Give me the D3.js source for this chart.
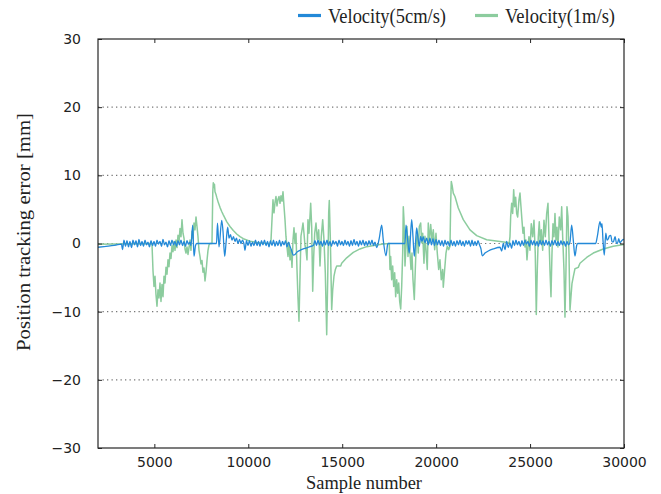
<!DOCTYPE html>
<html>
<head>
<meta charset="utf-8">
<script src="https://cdn.jsdelivr.net/npm/d3@7"></script>
<style>
html,body{margin:0;padding:0;background:#fff;}
svg{display:block;}
</style>
</head>
<body>
<svg id="chart" width="661" height="494"></svg>
<script>
// ---- data ----
const seriesNames = ["Velocity(5cm/s)", "Velocity(1m/s)"];
const xTicks = [5000, 10000, 15000, 20000, 25000, 30000];
const yTicks = [-30, -20, -10, 0, 10, 20, 30];
const gridValues = [-20, -10, 0, 10, 20];
const xLabel = "Sample number";
const yLabel = "Position tracking error [mm]";

// Velocity(5cm/s): [sample, error mm]
const velocity5cm = [
[2000,-0.55],[2320,-0.45],[2639,-0.35],[2958,-0.22],[3251,-0.1],[3304,-0.9],
[3384,0.5],[3464,-0.4],[3544,0.4],[3624,-0.5],[3703,0.3],[3783,-0.6],[3863,0.5],[3943,-0.2],
[4023,0.4],[4103,-0.5],[4182,0.6],[4262,-0.3],[4342,0.3],[4422,-0.4],[4502,0.5],[4582,-0.2],
[4662,0.2],[4741,-0.5],[4821,0.4],[4901,-0.3],[4981,0.3],[5061,-0.4],[5140,0.5],[5220,-0.1],
[5300,0.3],[5380,-0.4],[5460,0.6],[5540,-0.2],[5620,0.2],[5700,-0.5],[5779,0.4],[5859,-0.3],
[5939,0.5],[6019,-0.2],[6099,0.3],[6179,-0.4],[6258,0.4],[6338,-0.2],[6418,0.5],[6498,-0.3],
[6578,0.3],[6658,-0.4],[6737,0.4],[6817,-0.1],[6897,0.2],[6950,-0.3],[7041,2.7],[7110,-1.9],
[7190,-0.3],[7254,0],[8308,0],[8361,3.0],[8441,-0.5],[8585,3.4],[8654,1.8],[8744,-1.9],
[8813,0.0],[8904,2.4],[8973,0.8],[9053,1.3],[9133,0.5],[9213,1.0],[9292,0.3],[9372,0.8],
[9452,0.0],[9532,0.6],[9612,0.0],[9692,0.5],[9772,-0.1],[9825,-1.0],[9905,0.4],[9985,-0.3],
[10065,0.4],[10144,-0.4],[10224,0.2],[10304,-0.3],[10384,0.5],[10464,-0.3],[10544,0.3],
[10623,-0.4],[10703,0.4],[10783,-0.2],[10863,0.5],[10943,-0.3],[11023,0.3],[11103,-0.5],
[11182,0.4],[11262,-0.3],[11342,0.5],[11422,-0.4],[11502,0.3],[11582,-0.3],[11662,0.5],
[11741,-0.4],[11821,0.3],[11901,-0.2],[11981,0.4],[12060,-0.5],[12140,0.2],[12220,-0.4],
[12300,-1.0],[12396,-1.7],[12486,-1.6],[12577,-1.3],[12752,-1.0],[12928,-0.8],[13105,-0.65],
[13285,-0.45],[13461,-0.3],
[13551,0.4],[13631,-0.3],[13710,0.5],[13790,-0.2],[13870,0.3],[13950,-0.4],[14030,0.4],
[14110,-0.2],[14190,0.5],[14270,-0.3],[14349,0.3],[14429,-0.4],[14509,0.4],[14589,-0.1],
[14669,0.3],[14749,-0.4],[14829,0.5],[14908,-0.2],[14988,0.3],[15068,-0.3],[15148,0.5],
[15228,-0.2],[15308,0.3],[15388,-0.4],[15467,0.4],[15547,-0.3],[15627,0.6],[15707,-0.2],
[15787,0.3],[15867,-0.4],[15946,0.4],[16026,-0.2],[16106,0.5],[16186,-0.3],[16266,0.3],
[16346,-0.3],[16425,0.4],[16505,-0.2],[16585,0.5],[16665,-0.3],[16745,0.2],[16835,-0.6],
[16974,0.8],[17101,2.7],[17186,0.5],[17330,-1.8],[17421,-0.1],[17453,0],[18342,0],
[18395,2.7],[18485,0.5],[18570,-1.4],[18698,3.5],[18767,1.0],[18837,-1.9],[18911,0.5],
[18964,2.3],[19034,0.8],[19103,-0.4],[19177,1.05],[19246,0.3],[19316,1.0],[19405,0.1],
[19496,0.8],[19581,-0.2],[19672,0.8],[19751,-0.2],[19831,0.7],[19911,-0.3],[19991,0.6],
[20071,-0.2],[20151,0.5],[20231,-0.3],[20311,0.4],[20391,-0.4],[20470,0.5],[20550,-0.2],
[20630,0.3],[20710,-0.4],[20790,0.5],[20870,-0.3],[20950,0.3],[21030,-0.4],[21110,0.4],
[21190,-0.2],[21269,0.5],[21349,-0.3],[21429,0.3],[21509,-0.4],[21589,0.4],[21669,-0.1],
[21748,0.4],[21828,-0.4],[21908,0.5],[21988,-0.3],[22068,0.3],[22148,-0.3],[22228,0.4],
[22308,-0.2],[22386,-0.8],[22456,-1.8],[22600,-1.4],[22776,-1.1],[23042,-0.8],[23398,-0.55],
[23489,-1.1],[23574,0.0],[23664,-0.9],[23755,0.3],[23840,-0.6],[23930,0.1],[24020,-0.7],
[24089,0.4],[24169,-0.3],[24249,0.5],[24329,-0.2],[24409,0.3],[24489,-0.4],[24569,0.4],
[24649,-0.3],[24729,0.5],[24808,-0.1],[24888,0.3],[24968,-0.4],[25048,0.5],[25128,-0.2],
[25208,0.4],[25288,-0.3],[25368,0.3],[25447,-0.4],[25527,0.5],[25607,-0.2],[25687,0.4],
[25767,-0.3],[25847,0.5],[25927,-0.2],[26006,0.3],[26086,-0.4],[26166,0.4],[26246,-0.2],
[26326,0.5],[26406,-0.3],[26485,0.3],[26565,-0.3],[26645,0.4],[26725,-0.2],[26805,0.3],
[26885,-0.4],[26964,0.3],[27044,-0.2],[27124,0.2],[27214,2.7],[27300,0.5],[27390,-1.85],
[27480,-0.3],[27534,0],[28493,0],[28578,1.0],[28721,3.2],[28791,2.4],[28828,2.9],[28881,0.5],
[28950,-1.7],[29030,1.5],[29099,0.5],[29168,0.7],[29221,1.1],[29296,1.2],[29365,0.25],
[29434,0.25],[29525,1.0],[29594,0.1],[29647,0],[29722,0.7],[29785,0.1],[29876,0.4],
[29962,0.6],[30000,0.5]
];

// Velocity(1m/s): [sample, error mm]
const velocity1m = [
[2000,-0.1],[4874,0],
[4928,-4.0],[4981,-6.3],[5034,-4.8],[5087,-7.5],[5140,-9.2],[5194,-6.8],[5247,-8.0],[5300,-5.8],
[5353,-8.5],[5407,-6.0],[5460,-7.8],[5513,-4.8],[5566,-5.8],[5620,-3.5],[5673,-4.5],[5726,-2.4],
[5779,-3.4],[5833,-1.4],[5886,-2.2],[5939,-0.3],[5992,-1.2],[6045,0.3],[6099,-1.0],[6152,0.5],
[6205,-0.6],[6258,1.2],[6312,0.2],[6365,2.2],[6418,1.0],[6471,3.5],[6525,1.5],[6578,0.8],
[6631,-0.8],[6684,-1.4],[6737,-0.5],[6791,-1.6],[6844,-0.6],[6897,0.5],[6950,-1.0],[7004,1.8],
[7057,0.8],[7110,3.0],[7163,2.0],[7217,3.9],[7270,2.5],[7323,1.0],[7376,-1.0],[7429,-1.9],
[7483,-3.0],[7536,-2.5],[7589,-4.2],[7642,-3.6],[7696,-5.5],[7749,-4.2],[7802,-2.5],[7855,-1.0],
[7909,-0.2],[7962,0],[8068,0],[8110,7.5],[8137,8.9],[8175,8.2],[8200,8.7],[8228,7.6],[8281,7.2],
[8318,6.8],[8404,6.0],[8494,5.3],[8585,4.7],[8670,4.2],[8850,3.2],[9026,2.5],[9202,1.9],
[9383,1.4],[9559,1.0],[9735,0.7],[10091,0.35],[10448,0.15],[10783,0.05],[11156,0.0],
[11209,0.5],[11262,3.5],[11315,6.4],[11368,4.5],[11422,6.0],[11475,6.9],[11528,5.5],[11582,6.5],
[11635,6.9],[11688,5.9],[11741,7.0],[11794,6.2],[11848,7.6],[11901,5.5],[11954,3.5],[12007,1.0],
[12060,-0.5],[12114,-1.9],[12167,0.1],[12220,-2.4],[12273,-0.9],[12327,-3.5],[12380,0.5],
[12433,2.3],[12486,0.0],[12539,1.5],[12593,-3.8],[12646,-8.0],[12699,-11.4],[12752,-4.9],
[12805,1.1],[12859,2.0],[12912,3.0],[12965,1.5],[13018,-0.3],[13072,-0.9],[13125,-2.4],
[13178,3.5],[13231,1.5],[13285,4.0],[13322,5.9],[13375,2.5],[13429,-7.0],[13482,-1.9],
[13535,1.5],[13604,3.0],[13673,0.6],[13748,2.0],[13817,-3.3],[13886,1.0],[13961,3.5],
[14030,0.5],[14100,-4.3],[14174,-13.4],[14227,-5.3],[14280,4.5],[14312,6.3],[14365,1.0],
[14440,-9.7],[14493,-6.8],[14562,-4.8],[14636,-3.8],[14706,-3.3],[14919,-3.3],[14972,-2.9],
[15238,-2.1],[15590,-1.3],[15946,-0.8],[16303,-0.46],[16835,-0.22],[17186,-0.07],[17506,0],
[17543,-3.8],[17580,-1.9],[17633,-5.3],[17687,-3.3],[17740,-6.3],[17793,-4.3],[17846,-7.8],
[17900,-5.3],[17953,-7.3],[18006,-5.8],[18059,-8.5],[18113,-9.6],[18166,-6.3],[18219,-1.4],
[18251,5.4],[18288,3.5],[18342,-3.3],[18395,-0.4],[18448,2.5],[18501,-1.9],[18554,1.05],
[18607,-1.4],[18661,-3.8],[18714,-1.4],[18767,-5.3],[18837,-8.2],[18890,-3.8],[18943,0.1],
[18996,1.5],[19049,-1.4],[19103,2.5],[19177,3.0],[19230,0.1],[19284,1.5],[19352,-2.9],
[19405,1.05],[19459,-0.9],[19528,-3.8],[19581,3.0],[19634,0.1],[19709,2.8],[19778,0.5],
[19848,2.0],[19922,-0.9],[19991,1.5],[20061,-1.4],[20135,-3.8],[20204,-2.4],[20273,-5.3],
[20348,-3.8],[20380,-6.4],[20454,-3.8],[20524,-1.4],[20593,-0.4],[20667,-0.9],[20737,-0.4],
[20774,5.9],[20806,9.1],[20859,8.4],[20912,7.4],[21003,6.9],[21179,5.2],[21445,3.5],
[21801,2.0],[22158,1.15],[22690,0.56],[23398,0.3],[23893,0.1],
[23930,1.0],[23967,3.9],[24020,5.9],[24074,4.4],[24127,7.9],[24180,5.4],[24233,6.8],
[24287,4.4],[24340,3.9],[24409,6.4],[24463,7.4],[24516,5.4],[24569,3.4],[24622,1.5],
[24676,2.4],[24729,-0.5],[24782,0.5],[24835,-2.4],[24889,-0.5],[24942,1.0],[24995,-1.0],
[25064,2.9],[25139,1.0],[25208,3.4],[25277,-1.5],[25331,-10.4],[25384,-3.9],[25437,1.0],
[25490,3.2],[25544,0],[25597,2.0],[25671,-1.0],[25740,3.4],[25810,1.0],[25884,4.4],
[25953,5.9],[26006,1.0],[26059,-3.9],[26113,-7.8],[26166,-1.5],[26219,2.9],[26272,1.0],
[26326,4.4],[26379,0.5],[26432,2.4],[26485,-0.5],[26555,3.9],[26629,2.0],[26683,5.4],
[26736,1.0],[26805,-3.9],[26858,-10.8],[26911,-3.9],[26964,5.4],[27018,3.9],[27071,-1.5],
[27124,-9.8],[27177,-7.8],[27230,-5.9],[27300,-4.9],[27390,-3.7],[27566,-3.5],[27656,-2.9],
[28013,-2.05],[28365,-1.4],[28897,-0.8],[29429,-0.4],[30000,-0.15]
];

const seriesColors = ["#2389d8", "#8ccc9e"];

// ---- layout ----
const margin = {left: 98, right: 624, top: 39, bottom: 448};
const svg = d3.select("#chart");

const x = d3.scaleLinear().domain([2000, 30000]).range([margin.left, margin.right]);
const y = d3.scaleLinear().domain([-30, 30]).range([margin.bottom, margin.top]);

const fmt = v => String(v).replace("-", "\u2212");

// clip
svg.append("defs").append("clipPath").attr("id", "plotclip")
  .append("rect").attr("x", margin.left).attr("y", margin.top)
  .attr("width", margin.right - margin.left).attr("height", margin.bottom - margin.top);

// grid
svg.append("g").selectAll("line").data(gridValues).join("line")
  .attr("x1", margin.left).attr("x2", margin.right)
  .attr("y1", d => y(d)).attr("y2", d => y(d))
  .attr("stroke", "#777").attr("stroke-width", 1.2)
  .attr("stroke-dasharray", "1.3,3.2");

// lines
const lineSharp = d3.line().x(d => x(d[0])).y(d => y(d[1]));
const lineSmooth = d3.line().x(d => x(d[0])).y(d => y(d[1])).curve(d3.curveMonotoneX);
const plot = svg.append("g").attr("clip-path", "url(#plotclip)");
plot.append("path").datum(velocity1m).attr("d", lineSharp)
  .attr("fill", "none").attr("stroke", seriesColors[1]).attr("stroke-width", 1.5)
  .attr("stroke-linejoin", "round");
plot.append("path").datum(velocity5cm).attr("d", lineSmooth)
  .attr("fill", "none").attr("stroke", seriesColors[0]).attr("stroke-width", 1.3)
  .attr("stroke-linejoin", "round");

// axes (ticks inward)
const tickLen = 4;
const axisColor = "#262626";
const axB = svg.append("g").attr("transform", `translate(0,${margin.bottom})`)
  .call(d3.axisBottom(x).tickValues(xTicks).tickSizeInner(-tickLen).tickSizeOuter(0).tickPadding(9).tickFormat(d3.format("d")));
const axT = svg.append("g").attr("transform", `translate(0,${margin.top})`)
  .call(d3.axisTop(x).tickValues(xTicks).tickSizeInner(-tickLen).tickSizeOuter(0).tickFormat(""));
const axL = svg.append("g").attr("transform", `translate(${margin.left},0)`)
  .call(d3.axisLeft(y).tickValues(yTicks).tickSizeInner(-tickLen).tickSizeOuter(0).tickPadding(17).tickFormat(fmt));
const axR = svg.append("g").attr("transform", `translate(${margin.right},0)`)
  .call(d3.axisRight(y).tickValues(yTicks).tickSizeInner(-tickLen).tickSizeOuter(0).tickFormat(""));
[axB, axT, axL, axR].forEach(g => {
  g.select(".domain").remove();
  g.selectAll(".tick line").attr("stroke", axisColor).attr("stroke-width", 1);
  g.selectAll("text").attr("font-family", "'DejaVu Sans', sans-serif").attr("font-size", 14).attr("fill", "#222");
});
axB.selectAll("text").attr("dy", "0.71em");

// frame
svg.append("rect").attr("x", margin.left).attr("y", margin.top)
  .attr("width", margin.right - margin.left).attr("height", margin.bottom - margin.top)
  .attr("fill", "none").attr("stroke", axisColor).attr("stroke-width", 1.2);

// axis titles
svg.append("text").attr("x", 364).attr("y", 489).attr("text-anchor", "middle")
  .attr("font-family", "'Liberation Serif', serif").attr("font-size", 18).attr("fill", "#222")
  .attr("textLength", 116).attr("lengthAdjust", "spacingAndGlyphs").text(xLabel);
svg.append("text").attr("transform", "translate(30,232) rotate(-90)").attr("text-anchor", "middle")
  .attr("font-family", "'Liberation Serif', serif").attr("font-size", 19).attr("fill", "#222")
  .attr("textLength", 238).attr("lengthAdjust", "spacingAndGlyphs").text(yLabel);

// legend
const legendItems = [
  {name: seriesNames[0], color: seriesColors[0], x1: 298, x2: 321, tx: 328, tl: 118},
  {name: seriesNames[1], color: seriesColors[1], x1: 475, x2: 498, tx: 505, tl: 110}
];
const lg = svg.append("g");
legendItems.forEach(it => {
  lg.append("line").attr("x1", it.x1).attr("x2", it.x2).attr("y1", 15.5).attr("y2", 15.5)
    .attr("stroke", it.color).attr("stroke-width", 3.2);
  lg.append("text").attr("x", it.tx).attr("y", 22.5)
    .attr("font-family", "'Liberation Serif', serif").attr("font-size", 20).attr("fill", "#222")
    .attr("textLength", it.tl).attr("lengthAdjust", "spacingAndGlyphs").text(it.name);
});
</script>
</body>
</html>
